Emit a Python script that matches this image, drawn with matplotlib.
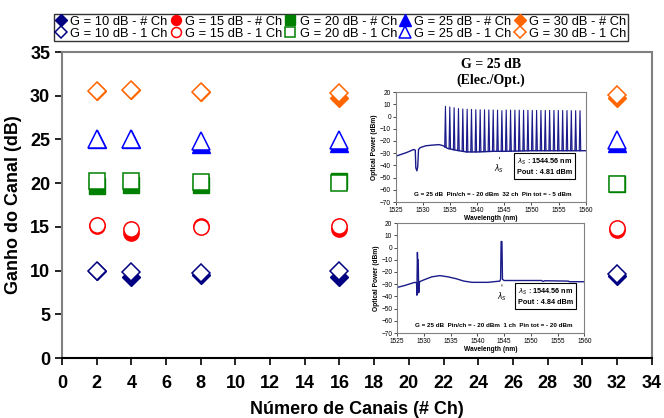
import matplotlib
matplotlib.use('Agg')
import matplotlib.pyplot as plt
import numpy as np

plt.rcParams['font.family'] = ['Liberation Sans', 'DejaVu Sans']

# main chart data
n_canais = [2, 4, 8, 16, 32]
g10_multi = [9.9, 9.3, 9.5, 9.3, 9.4]
g10_single = [10.0, 9.8, 9.7, 9.9, 9.6]
g15_multi = [15.1, 14.3, 15.1, 14.8, 14.7]
g15_single = [15.2, 14.8, 15.0, 15.1, 14.9]
g20_multi = [19.7, 19.8, 19.8, 20.2, 19.9]
g20_single = [20.3, 20.2, 20.1, 20.0, 19.9]
g25_multi = [25.0, 25.0, 24.5, 24.6, 24.6]
g25_single = [25.0, 25.0, 24.8, 24.9, 24.9]
g30_multi = [30.6, 30.7, 30.4, 29.7, 29.8]
g30_single = [30.6, 30.7, 30.4, 30.3, 30.1]

ganhos = ['10', '15', '20', '25', '30']
cores = ['#000080', '#FF0000', '#008000', '#0000FF', '#FF6600']
marcadores = ['D', 'o', 's', '^', 'D']
tamanhos = [9, 11, 11, 13, 9]

# inset spectra (wavelength nm, power dBm)
canais_nm = [1534.16, 1534.96, 1535.76, 1536.56, 1537.36, 1538.16, 1538.96, 1539.76,
             1540.56, 1541.36, 1542.16, 1542.96, 1543.76, 1544.56, 1545.36, 1546.16,
             1546.96, 1547.76, 1548.56, 1549.36, 1550.16, 1550.96, 1551.76, 1552.56,
             1553.36, 1554.16, 1554.96, 1555.76, 1556.56, 1557.36, 1558.16, 1558.96]
canais_dbm = [8.3, 7.8, 7.2, 6.5, 6.2, 6.0, 5.8, 5.6, 5.5, 5.5, 5.4, 5.3, 5.2, 4.8,
              5.3, 5.3, 5.2, 5.2, 5.1, 5.1, 5.0, 5.0, 5.0, 5.0, 5.0, 5.0, 5.0, 4.9,
              4.9, 4.8, 4.8, 4.8]
base32_nm = [1525, 1526, 1527, 1528.3, 1528.6, 1528.7, 1528.9, 1529.05, 1529.2, 1529.5,
             1530.5, 1531.5, 1533, 1533.8, 1534.5, 1536, 1538, 1540, 1543, 1545,
             1550, 1555, 1560]
base32_dbm = [-32.5, -31, -29.5, -27, -27.5, -42, -44.5, -41, -27, -25.5,
              -24, -23.5, -23, -24, -26, -27.5, -29, -29, -28.5, -28.5,
              -28, -28, -28]
esp1_nm = [1525, 1526.5, 1528.3, 1528.65, 1528.7, 1528.8, 1528.85, 1528.95, 1529.05,
           1529.2, 1530, 1531.5, 1533, 1534.5, 1536, 1537.5, 1539, 1542, 1544.2,
           1544.35, 1544.45, 1544.6, 1544.7, 1545, 1552, 1552.3, 1552.6, 1557,
           1557.2, 1560]
esp1_dbm = [-32.7, -31, -28.5, -29, -39, -4, -10, -10, -37,
            -28, -26.5, -24, -23, -24, -25.5, -27.5, -28.5, -28.5, -27.5,
            -26, 4.9, 4.9, -26, -27, -27, -27.8, -27.2, -27.5,
            -28, -28]

fig = plt.figure(figsize=(6.64, 4.18), dpi=100)
ax = fig.add_axes([0.0934, 0.1435, 0.888, 0.732])

handles = []
multi = [g10_multi, g15_multi, g20_multi, g25_multi, g30_multi]
single = [g10_single, g15_single, g20_single, g25_single, g30_single]
for i in range(5):
    h1, = ax.plot(n_canais, multi[i], linestyle='none', marker=marcadores[i],
                  ms=tamanhos[i], color=cores[i], mec=cores[i], zorder=3,
                  label='G = %s dB - # Ch' % ganhos[i])
    h2, = ax.plot(n_canais, single[i], linestyle='none', marker=marcadores[i],
                  ms=tamanhos[i], color=cores[i], mfc='white', mec=cores[i],
                  mew=1.1, zorder=4, label='G = %s dB - 1 Ch' % ganhos[i])
    handles += [h1, h2]

ax.set_xlim(0, 34)
ax.set_ylim(0, 35)
ax.set_xticks(range(0, 35, 2))
ax.set_yticks(range(0, 36, 5))
ax.tick_params(direction='out', length=5, width=1.2, labelsize=13)
ax.tick_params(axis='x', pad=7)
for lab in ax.get_xticklabels() + ax.get_yticklabels():
    lab.set_fontweight('bold')
ax.spines['bottom'].set_color('black')
ax.spines['bottom'].set_linewidth(1.5)
for s in ['left', 'top', 'right']:
    ax.spines[s].set_color('#808080')
    ax.spines[s].set_linewidth(1.5)
ax.set_xlabel('Número de Canais (# Ch)', fontsize=13, fontweight='bold', labelpad=7)
ax.set_ylabel('Ganho do Canal (dB)', fontsize=13, fontweight='bold', labelpad=6)

leg = fig.legend(handles=handles, ncol=5, loc='upper left',
                 bbox_to_anchor=(0.072, 0.982), fontsize=9.3, frameon=True,
                 fancybox=False, edgecolor='black', handlelength=0.8,
                 handletextpad=0.3, columnspacing=0.25, borderpad=0.12,
                 labelspacing=0.0, markerscale=0.65)
leg.get_frame().set_linewidth(1.0)


def estilo_inset(a):
    a.set_xlim(1525, 1560)
    a.set_ylim(-70, 20)
    a.set_xticks(range(1525, 1561, 5))
    a.set_yticks(range(-70, 21, 10))
    a.tick_params(labelsize=4.7, length=2, width=0.5, pad=1.5)
    for s in a.spines.values():
        s.set_color('#808080')
        s.set_linewidth(0.8)
    a.set_ylabel('Optical Power (dBm)', fontsize=4.8, fontweight='bold', labelpad=1)
    a.set_xlabel('Wavelength (nm)', fontsize=4.8, fontweight='bold', labelpad=0.5)


linha = '#1a1a8a'

# top inset: 32 channels
a1 = fig.add_axes([0.596, 0.5167, 0.286, 0.263])
a1.plot(base32_nm, base32_dbm, color=linha, lw=1.0)
for lam, pk in zip(canais_nm, canais_dbm):
    pe = np.interp(lam, base32_nm, base32_dbm)
    a1.fill([lam - 0.14, lam, lam + 0.14], [pe, pk, pe], color='#7f7fc8', lw=0)
    a1.plot([lam - 0.14, lam, lam + 0.14], [pe, pk, pe], color=linha, lw=0.8)
estilo_inset(a1)
a1.annotate('', xy=(1544.1, -31), xytext=(1544.1, -37),
            arrowprops=dict(arrowstyle='-', lw=0.5, color='black'))
a1.text(1544.1, -38, r'$\lambda_S$', fontsize=5.5, ha='center', va='top')
a1.text(1552.5, -41, r'$\lambda_S$ : 1544.56 nm' + '\nPout : 4.81 dBm', fontsize=5.2,
        fontweight='bold', ha='center', va='center', linespacing=1.4,
        bbox=dict(boxstyle='square,pad=0.4', fc='white', ec='black', lw=0.8))
a1.text(1542.8, -64, 'G = 25 dB  Pin/ch = - 20 dBm  32 ch  Pin tot = - 5 dBm',
        fontsize=4.5, fontweight='bold', ha='center', va='center')
a1.text(1542.5, 36, 'G = 25 dB\n(Elec./Opt.)', fontsize=10, fontweight='bold',
        family='Liberation Serif', ha='center', va='center', linespacing=1.25)

# bottom inset: 1 channel
a2 = fig.add_axes([0.598, 0.2033, 0.282, 0.263])
a2.plot(esp1_nm, esp1_dbm, color=linha, lw=1.0)
estilo_inset(a2)
a2.annotate('', xy=(1544.6, -28), xytext=(1544.6, -34),
            arrowprops=dict(arrowstyle='-', lw=0.5, color='black'))
a2.text(1544.6, -35, r'$\lambda_S$', fontsize=5.5, ha='center', va='top')
a2.text(1552.8, -40, r'$\lambda_S$ : 1544.56 nm' + '\nPout : 4.84 dBm', fontsize=5.2,
        fontweight='bold', ha='center', va='center', linespacing=1.4,
        bbox=dict(boxstyle='square,pad=0.4', fc='white', ec='black', lw=0.8))
a2.text(1543, -64, 'G = 25 dB  Pin/ch = - 20 dBm  1 ch  Pin tot = - 20 dBm',
        fontsize=4.5, fontweight='bold', ha='center', va='center')

fig.savefig('out.png', dpi=100)
